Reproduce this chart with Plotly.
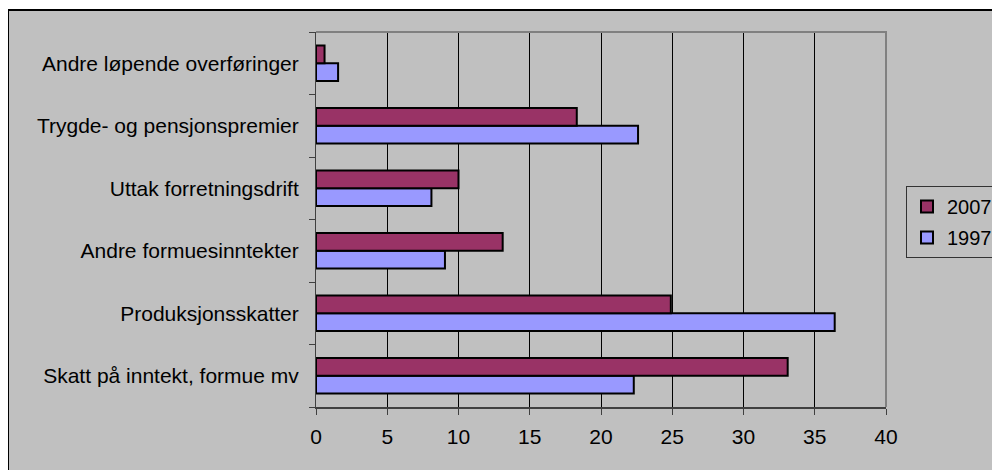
import plotly.graph_objects as go

categories = [
    "Skatt på inntekt, formue mv",
    "Produksjonsskatter",
    "Andre formuesinntekter",
    "Uttak forretningsdrift",
    "Trygde- og pensjonspremier",
    "Andre løpende overføringer",
]
values_1997 = [22.3, 36.4, 9.05, 8.1, 22.6, 1.55]
values_2007 = [33.1, 24.9, 13.1, 10.0, 18.3, 0.6]
x_ticks = [0, 5, 10, 15, 20, 25, 30, 35, 40]

# page body has an 8px margin, so the figure is drawn shifted by OFF
OFF = 8
W, H = 1000, 470
L, R, T, B = 316 - OFF, 886 - OFF, 32 - OFF, 407 - OFF
pw, ph = R - L, B - T


def px(x):
    # x in screen pixels -> paper coords
    return (x - OFF - L) / pw


def py(y):
    return 1 - (y - OFF - T) / ph


font = dict(family="Liberation Sans, Arial, sans-serif", size=21, color="black")
bar_line = dict(color="black", width=2)

fig = go.Figure()
fig.add_trace(go.Bar(
    y=categories, x=values_1997, orientation="h", name="1997",
    legendgroup="b", legendrank=2,
    marker=dict(color="#9999FF", line=bar_line),
))
fig.add_trace(go.Bar(
    y=categories, x=values_2007, orientation="h", name="2007",
    legendgroup="a", legendrank=1,
    marker=dict(color="#993366", line=bar_line),
))

fig.update_layout(
    width=W, height=H,
    margin=dict(l=L, r=W - R, t=T, b=H - B, pad=0, autoexpand=False),
    paper_bgcolor="#C0C0C0",
    plot_bgcolor="#C0C0C0",
    font=font,
    barmode="group",
    bargap=0.43,
    bargroupgap=0,
    showlegend=True,
    legend=dict(
        x=px(906), y=py(186), xanchor="left", yanchor="top",
        traceorder="grouped",
        tracegroupgap=2,
        bgcolor="#C0C0C0", bordercolor="#333333", borderwidth=1,
        font=dict(family="Liberation Sans, Arial, sans-serif", size=20, color="black"),
    ),
    xaxis=dict(
        range=[0, 40],
        tickvals=x_ticks,
        automargin=False,
        showgrid=True, gridcolor="black", gridwidth=1,
        zeroline=False,
        showline=True, linecolor="#404040", linewidth=2,
        ticks="outside", ticklen=6, tickcolor="#404040", tickwidth=1,
        ticklabelstandoff=4,
    ),
    yaxis=dict(
        type="category",
        categoryorder="array", categoryarray=categories,
        automargin=False,
        showgrid=False, zeroline=False,
        showline=True, linecolor="#404040", linewidth=1,
        ticks="outside", ticklen=6, tickcolor="#404040", tickson="boundaries",
        ticklabelstandoff=12,
    ),
    shapes=[
        # plot area border (top and right, gray)
        dict(type="path", xref="paper", yref="paper",
             path="M 0,1 L 1,1 L 1,0", line=dict(color="#808080", width=2)),
        # white margin outside chart border
        dict(type="rect", xref="paper", yref="paper",
             x0=px(-20), x1=px(W + 20), y0=py(10), y1=py(-20),
             fillcolor="white", line=dict(width=0)),
        dict(type="rect", xref="paper", yref="paper",
             x0=px(-20), x1=px(8), y0=py(H + 20), y1=py(-20),
             fillcolor="white", line=dict(width=0)),
        # chart border
        dict(type="line", xref="paper", yref="paper",
             x0=px(8), x1=px(W + 20), y0=py(10), y1=py(10),
             line=dict(color="black", width=2)),
        dict(type="line", xref="paper", yref="paper",
             x0=px(8), x1=px(8), y0=py(10), y1=py(H + 20),
             line=dict(color="black", width=2)),
    ],
)

fig.write_html("out.html")
